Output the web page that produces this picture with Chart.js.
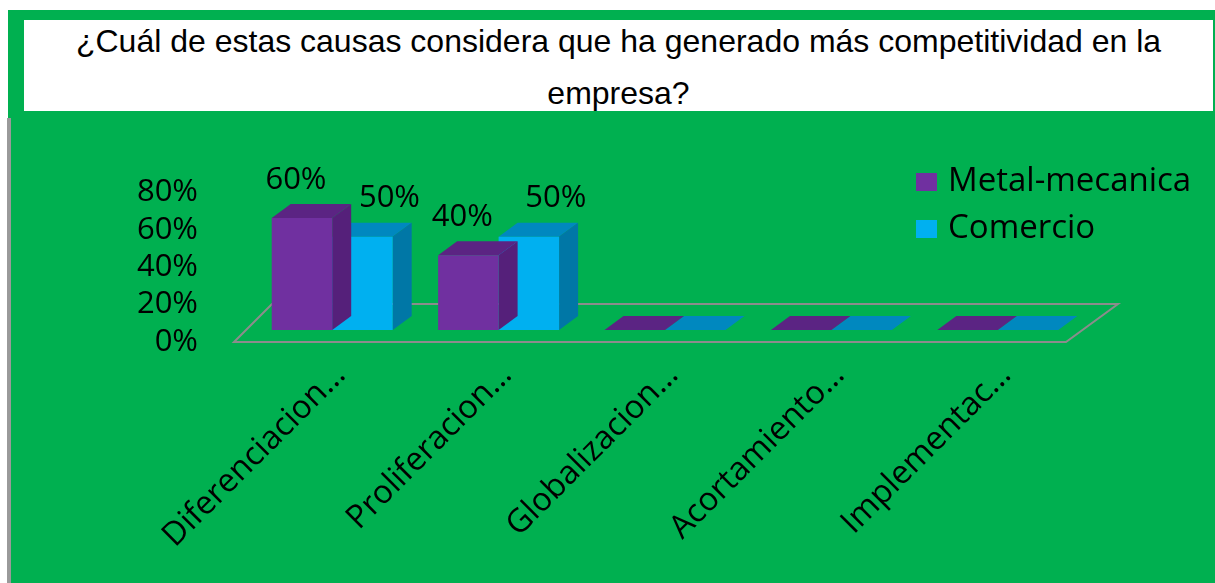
<!DOCTYPE html>
<html>
<head>
<meta charset="utf-8">
<title>Competitividad</title>
<script src="https://cdn.jsdelivr.net/npm/chart.js@4.4.1/dist/chart.umd.min.js"></script>
<style>
  html, body { margin: 0; padding: 0; background: #fff; }
  body { width: 1215px; height: 583px; position: relative; overflow: hidden; }
  #panel { position: absolute; left: 8px; top: 10px; width: 1207px; height: 573px; background: #00B050; }
  #edge { position: absolute; left: 7px; top: 118px; width: 4px; height: 465px; background: #9a9a9a; }
  #titleBox { position: absolute; left: 24px; top: 20px; width: 1189px; height: 91px; background: #fff; overflow: hidden; }
  #titleBox p { margin: -5px 0 0 0; font: 32px/52px "Liberation Sans", Arial, sans-serif; text-align: center; color: #000; }
  #chart { position: absolute; left: 11px; top: 111px; }
</style>
</head>
<body>
<div id="panel"></div>
<div id="edge"></div>
<div id="titleBox"><p>¿Cuál de estas causas considera que ha generado más competitividad en la<br>empresa?</p></div>
<canvas id="chart" width="1204" height="472"></canvas>
<script>
// Respuestas por sector (%)
const categories = ['Diferenciacion…', 'Proliferacion…', 'Globalizacion…', 'Acortamiento…', 'Implementac…'];
const metalMecanica = [60, 40, 0, 0, 0];
const comercio = [50, 50, 0, 0, 0];
const yTicks = [0, 20, 40, 60, 80];

const FONT = 'Open Sans';
const DX = 19, DY = -14; // depth of the fake 3D bars

// draws the floor, the top/side faces of each bar, value labels and the legend
const bar3d = {
  id: 'bar3d',
  beforeDatasetsDraw(chart) {
    const { ctx, chartArea: { left, right } } = chart;
    const z = chart.scales.y.getPixelForValue(0);
    ctx.save();
    ctx.strokeStyle = '#8c8c8c';
    ctx.lineWidth = 2;
    ctx.beginPath();
    ctx.moveTo(left - 15, z + 12);
    ctx.lineTo(right - 15, z + 12);
    ctx.lineTo(right + 37, z - 26);
    ctx.lineTo(left + 23, z - 26);
    ctx.closePath();
    ctx.stroke();
    ctx.restore();
  },
  beforeDatasetDraw(chart, args) {
    const ctx = chart.ctx;
    const ds = chart.data.datasets[args.index];
    ctx.save();
    args.meta.data.forEach(bar => {
      const { x, y, base, width } = bar.getProps(['x', 'y', 'base', 'width'], true);
      const l = x - width / 2, r = x + width / 2;
      ctx.fillStyle = ds.topColor;
      ctx.beginPath();
      ctx.moveTo(l, y);
      ctx.lineTo(l + DX, y + DY);
      ctx.lineTo(r + DX, y + DY);
      ctx.lineTo(r, y);
      ctx.closePath();
      ctx.fill();
      if (base - y > 0) {
        ctx.fillStyle = ds.sideColor;
        ctx.beginPath();
        ctx.moveTo(r, y);
        ctx.lineTo(r + DX, y + DY);
        ctx.lineTo(r + DX, base + DY);
        ctx.lineTo(r, base);
        ctx.closePath();
        ctx.fill();
      }
    });
    ctx.restore();
  },
  afterDatasetsDraw(chart) {
    const ctx = chart.ctx;
    ctx.save();
    ctx.font = `31px "${FONT}"`;
    ctx.fillStyle = '#000';
    ctx.textAlign = 'center';
    ctx.textBaseline = 'middle';
    chart.data.datasets.forEach((ds, i) => {
      chart.getDatasetMeta(i).data.forEach((bar, j) => {
        const v = ds.data[j];
        if (!v) return;
        ctx.fillText(v + '%', bar.x + ds.labelShift, bar.y - 38);
      });
    });
    ctx.restore();
  },
  afterDraw(chart) {
    const ctx = chart.ctx;
    ctx.save();
    ctx.font = `33px "${FONT}"`;
    ctx.textAlign = 'left';
    ctx.textBaseline = 'middle';
    chart.data.datasets.forEach((ds, i) => {
      const cy = 71 + i * 47;
      ctx.fillStyle = ds.backgroundColor;
      ctx.fillRect(905, cy - 9, 21, 18);
      ctx.fillStyle = '#000';
      ctx.fillText(ds.label, 937, cy);
    });
    ctx.restore();
  }
};

new Chart(document.getElementById('chart'), {
  type: 'bar',
  data: {
    labels: categories,
    datasets: [
      {
        label: 'Metal-mecanica',
        data: metalMecanica,
        backgroundColor: '#7030A0',
        topColor: '#5B2483',
        sideColor: '#55207A',
        labelShift: -6
      },
      {
        label: 'Comercio',
        data: comercio,
        backgroundColor: '#00B0F0',
        topColor: '#0088BF',
        sideColor: '#0077A6',
        labelShift: 27
      }
    ]
  },
  options: {
    responsive: false,
    animation: false,
    categoryPercentage: 0.727,
    barPercentage: 1,
    borderWidth: 0,
    layout: { padding: { top: 63, right: 134, left: 0, bottom: 0 } },
    plugins: {
      legend: { display: false },
      tooltip: { enabled: false }
    },
    scales: {
      x: {
        grid: { display: false, drawTicks: false },
        border: { display: false },
        afterFit: s => { s.height = 253; },
        ticks: {
          autoSkip: false,
          minRotation: 45,
          maxRotation: 45,
          padding: 26,
          labelOffset: 8,
          color: '#000',
          font: { family: FONT, size: 32.5 }
        }
      },
      y: {
        min: 0,
        max: 80,
        grid: { display: false, drawTicks: false },
        border: { display: false },
        afterBuildTicks: s => { s.ticks = yTicks.map(v => ({ value: v })); },
        afterFit: s => { s.width = 238; },
        ticks: {
          autoSkip: false,
          padding: 51,
          labelOffset: 12,
          color: '#000',
          font: { family: FONT, size: 31 },
          callback: v => v + '%'
        }
      }
    }
  },
  plugins: [bar3d]
});
</script>
</body>
</html>
